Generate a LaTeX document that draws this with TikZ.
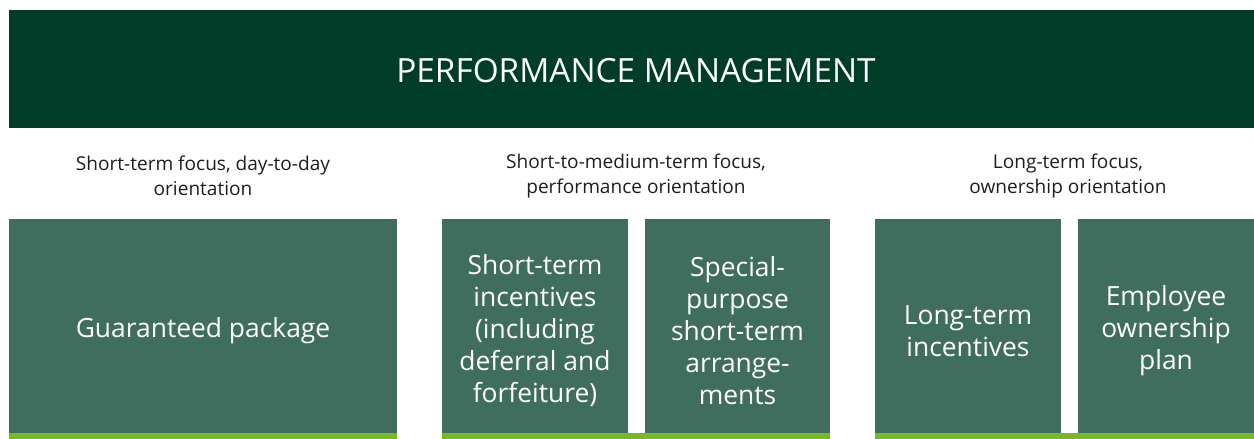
\documentclass[tikz,border=0pt]{standalone}
\usepackage{fontspec}
\setmainfont{Open Sans}
\definecolor{headgreen}{RGB}{0,61,40}
\definecolor{boxgreen}{RGB}{64,110,94}
\definecolor{limegreen}{RGB}{118,184,42}
\definecolor{captiongray}{RGB}{30,30,30}

\tikzset{every picture/.style={line width=0.75pt}}
\tikzset{
  plainbox/.style={fill=boxgreen, text=white, inner sep=0pt, align=center,
    font=\fontsize{19.8}{24}\selectfont},
  caption/.style={text=captiongray, inner sep=0pt, align=center,
    font=\fontsize{14.3}{19}\selectfont},
  baseline bar/.style={fill=limegreen}
}

\begin{document}
\begin{tikzpicture}[x=0.75pt,y=0.75pt,yscale=-1,xscale=1]
  \useasboundingbox (0,0) rectangle (1254,439);
  % header band
  \fill [headgreen] (9,10) rectangle (1254,128);
  \node (header) at (636,71) [text=white, inner sep=0pt, font=\fontsize{25}{30}\selectfont] {PERFORMANCE MANAGEMENT};

  % group captions
  \node (capshort) at (203,176) [caption] {Short-term focus, day-to-day\\orientation};
  \node (capmedium) at (636,176) [caption] {Short-to-medium-term focus,\\performance orientation};
  \node (caplong) at (1068,176) [caption] {Long-term focus,\\ownership orientation};

  % component boxes
  \fill [boxgreen] (9,219) rectangle (397,433);
  \node (guaranteed) at (203,331) [plainbox] {Guaranteed package};

  \fill [boxgreen] (442,219) rectangle (628,433);
  \node (sti) at (535,331) [plainbox] {Short-term\\incentives\\(including\\deferral and\\forfeiture)};
  \fill [boxgreen] (645,219) rectangle (830,433);
  \node (special) at (737.5,331) [plainbox] {Special-\\purpose\\short-term\\arrange-\\ments};

  \fill [boxgreen] (875,219) rectangle (1061,433);
  \node (lti) at (968,331) [plainbox] {Long-term\\incentives};
  \fill [boxgreen] (1078,219) rectangle (1254,433);
  \node (esop) at (1166,331) [plainbox] {Employee\\ownership\\plan};

  % lime bars under each group
  \fill [baseline bar] (9,433) rectangle (397,439);
  \fill [baseline bar] (442,433) rectangle (830,439);
  \fill [baseline bar] (875,433) rectangle (1254,439);
\end{tikzpicture}
\end{document}
